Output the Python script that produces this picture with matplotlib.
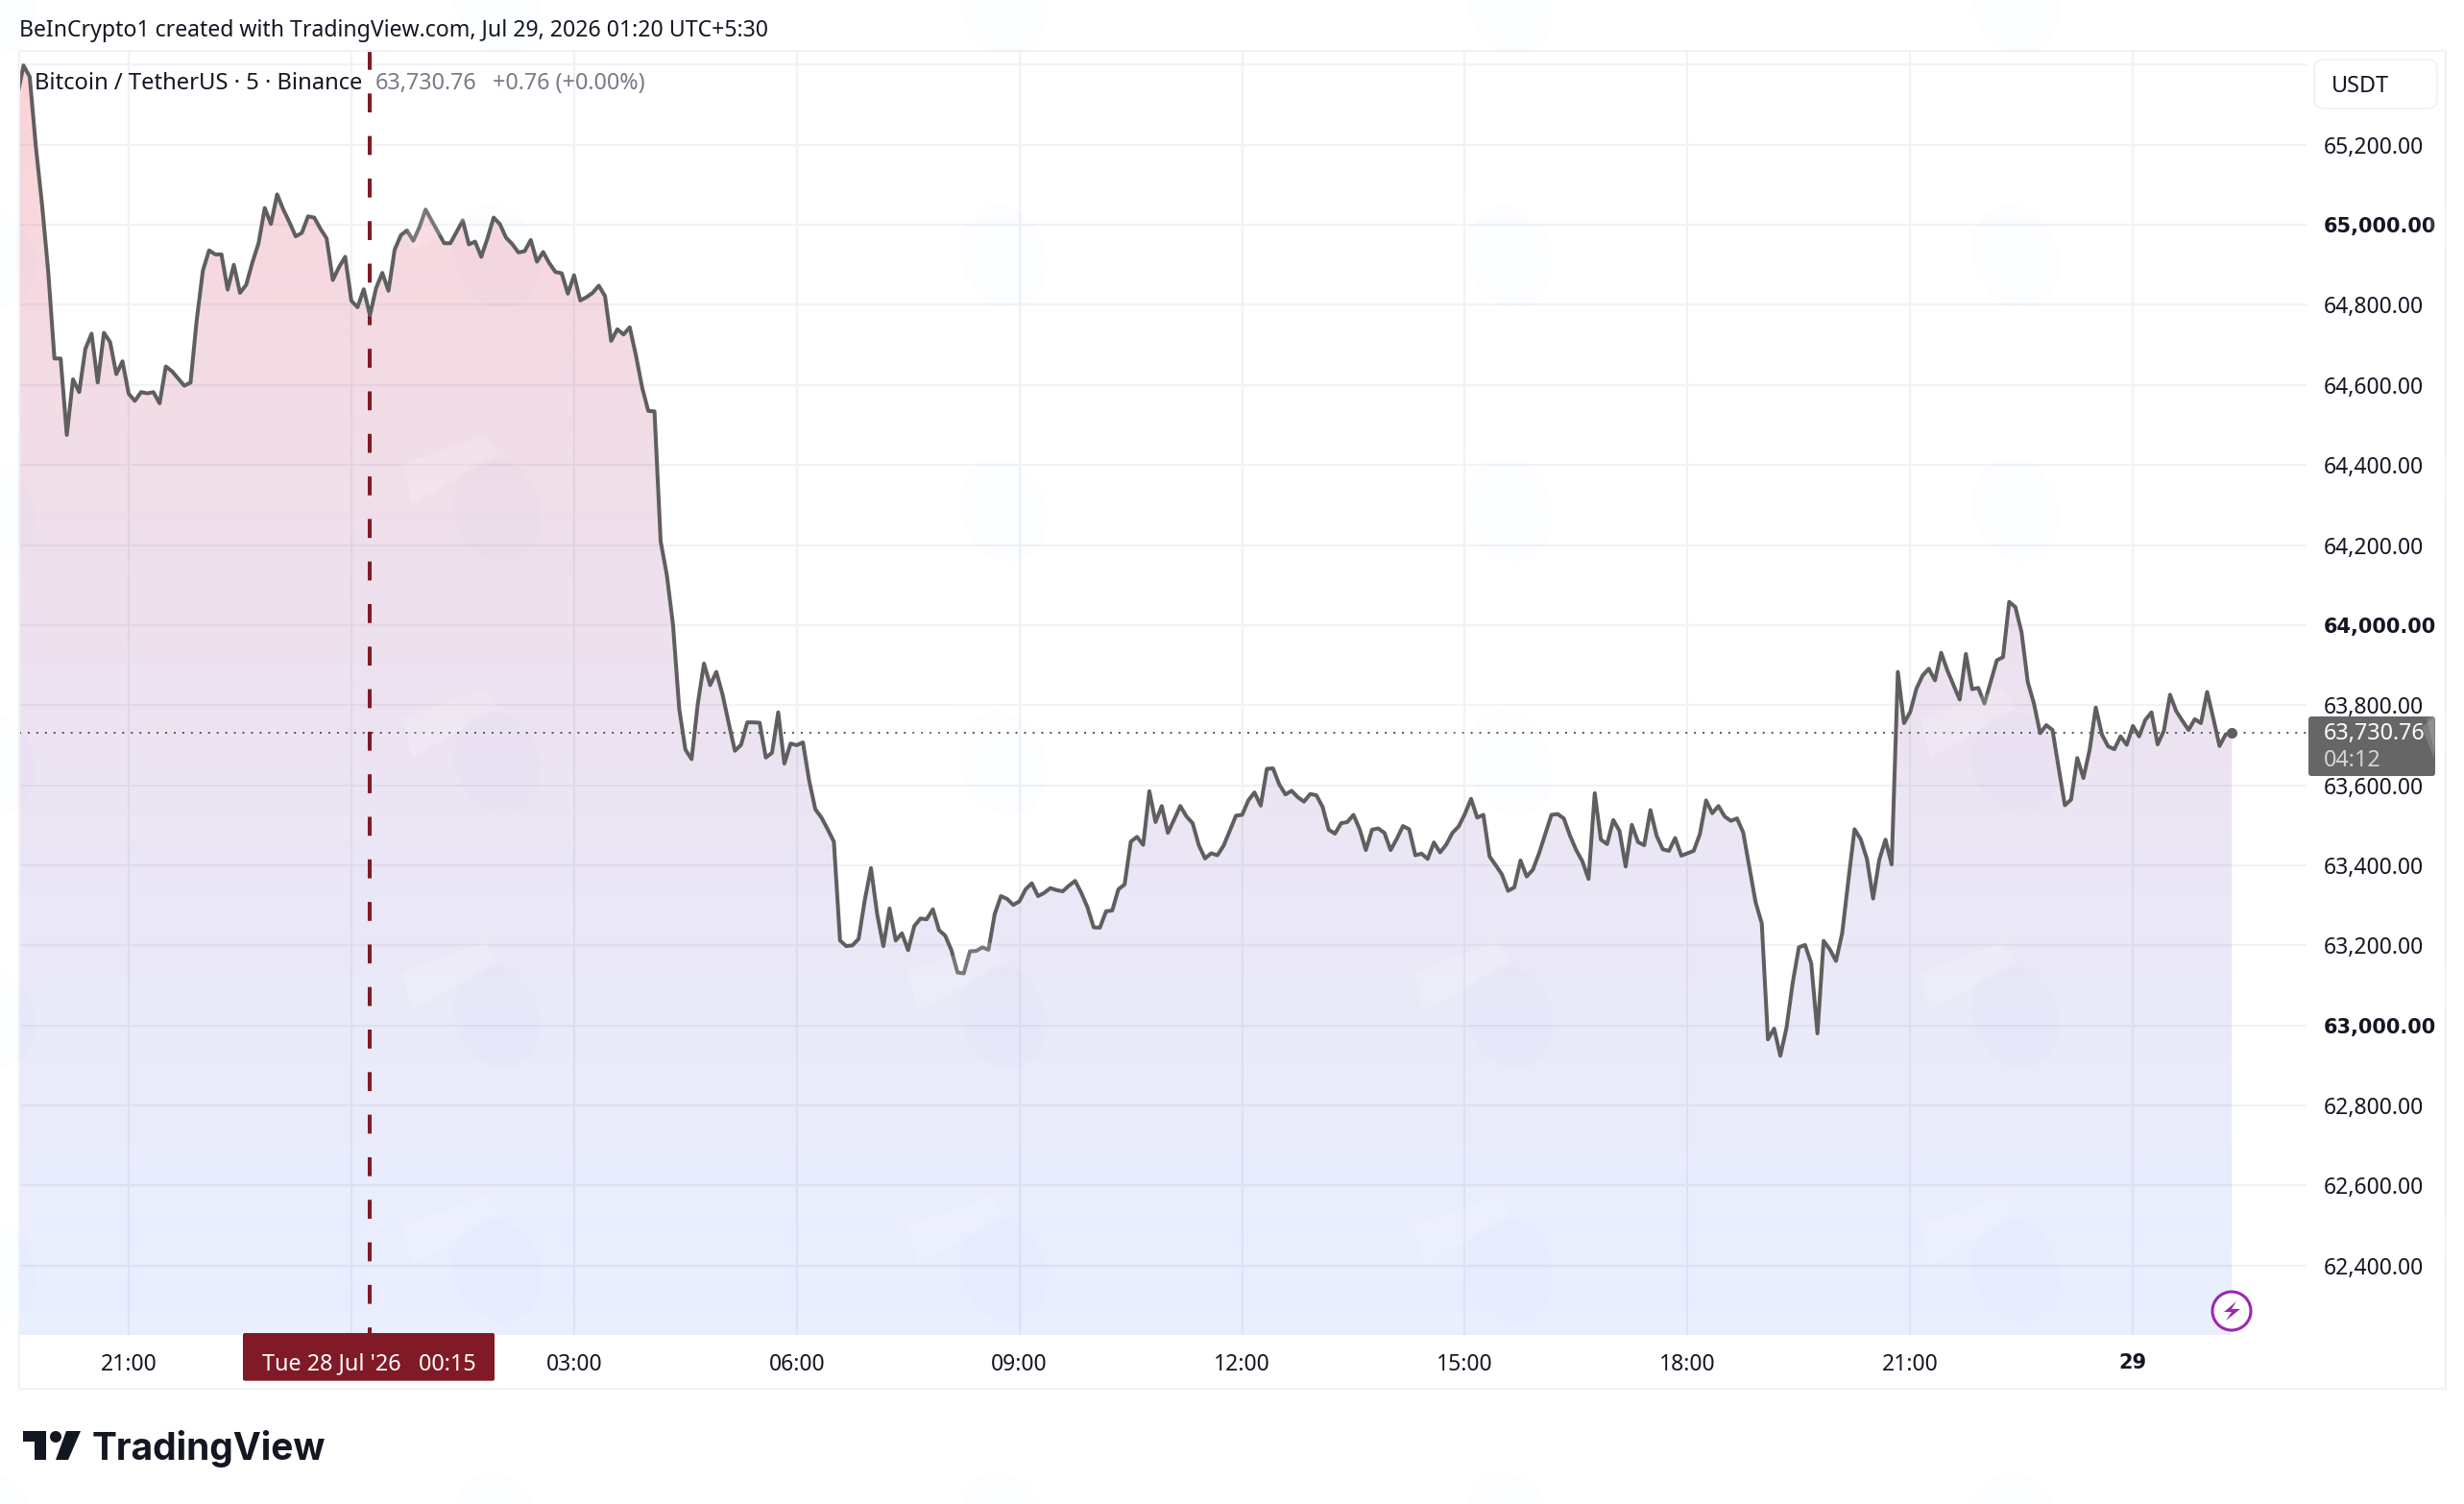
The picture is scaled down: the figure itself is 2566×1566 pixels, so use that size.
''' BTC/USDT 5 min area chart, TradingView look '''
import numpy as np
import matplotlib
matplotlib.use('Agg')
import matplotlib.pyplot as plt
from matplotlib.patches import Polygon, Rectangle, FancyBboxPatch, Circle, Ellipse

# closes, one every 5 minutes, first one is 18 bars before 21:00
first_bar = -18
prices = [
    65322, 65398, 65370, 65194, 65050, 64882, 64666, 64666, 64475, 64614,
    64582, 64690, 64728, 64606, 64730, 64707, 64627, 64659,
    64578, 64560, 64582, 64579, 64582, 64554, 64646, 64634, 64616, 64598,
    64606, 64762, 64886, 64936, 64926, 64926, 64838, 64900, 64830, 64850,
    64906, 64954, 65042, 65002, 65076, 65038, 65006, 64971, 64980, 65021,
    65018, 64990, 64966, 64862, 64894, 64920, 64810, 64794, 64839, 64774,
    64842, 64880, 64835, 64938, 64974, 64986, 64960, 64994, 65038, 65010,
    64982, 64954, 64954, 64982, 65011, 64951, 64958, 64920, 64966, 65018,
    65002, 64968, 64952, 64931, 64934, 64962, 64908, 64932, 64904, 64882,
    64879, 64828, 64874, 64811, 64819, 64830, 64848, 64822, 64710, 64739,
    64726, 64744, 64674, 64594, 64535, 64534, 64209, 64125, 64000, 63791,
    63689, 63665, 63803, 63904, 63850, 63883, 63827, 63755, 63686, 63701,
    63757, 63757, 63756, 63669, 63681, 63782, 63654, 63704, 63700, 63707,
    63612, 63540, 63519, 63490, 63459, 63212, 63198, 63200, 63216, 63313,
    63393, 63278, 63198, 63292, 63212, 63230, 63188, 63248, 63267, 63265,
    63290, 63238, 63224, 63188, 63132, 63130, 63185, 63186, 63195, 63189,
    63278, 63323, 63316, 63301, 63310, 63340, 63355, 63323, 63331, 63343,
    63338, 63335, 63349, 63361, 63331, 63295, 63245, 63244, 63285, 63287,
    63340, 63352, 63459, 63471, 63451, 63585, 63508, 63548, 63481, 63514,
    63548, 63522, 63505, 63450, 63417, 63430, 63425, 63449, 63486, 63524,
    63526, 63562, 63582, 63549, 63641, 63642, 63602, 63577, 63586, 63570,
    63559, 63578, 63575, 63546, 63489, 63479, 63505, 63508, 63526, 63490,
    63438, 63489, 63492, 63481, 63438, 63466, 63498, 63490, 63425, 63429,
    63416, 63457, 63432, 63452, 63481, 63497, 63528, 63566, 63519, 63526,
    63422, 63400, 63377, 63336, 63345, 63412, 63372, 63389, 63430, 63478,
    63526, 63528, 63517, 63474, 63438, 63410, 63366, 63580, 63464, 63453,
    63513, 63486, 63397, 63501, 63458, 63450, 63538, 63474, 63440, 63436,
    63468, 63424, 63430, 63436, 63478, 63562, 63530, 63548, 63522, 63511,
    63517, 63482, 63395, 63308, 63255, 62965, 62992, 62924, 62994, 63106,
    63195, 63201, 63155, 62980, 63211, 63190, 63161, 63230, 63362, 63490,
    63465, 63416, 63317, 63414, 63464, 63402, 63883, 63755, 63783, 63841,
    63874, 63891, 63862, 63931, 63887, 63850, 63814, 63928, 63840, 63843,
    63804, 63858, 63912, 63920, 64058, 64045, 63982, 63858, 63804, 63730,
    63750, 63738, 63643, 63550, 63564, 63668, 63618, 63688, 63794, 63726,
    63697, 63690, 63722, 63701, 63748, 63722, 63763, 63782, 63702, 63736,
    63826, 63785, 63761, 63738, 63765, 63755, 63833, 63767, 63698, 63727,
    63730.76,
]
last_price = 63730.76

price_ticks = [62400, 62600, 62800, 63000, 63200, 63400, 63600, 63800, 64000, 64200, 64400, 64600, 64800, 65000, 65200, 65400]
bold_prices = [63000, 64000, 65000]
time_ticks = [0, 36, 72, 108, 144, 180, 216, 252, 288, 324]
time_labels = ['21:00', '', '03:00', '06:00', '09:00', '12:00', '15:00', '18:00', '21:00', '29']
marker_bar = time_ticks[1] + 3  # 00:15

W, H = 2566, 1566
FONT = 'Noto Sans'
DARK = '#131722'
GRID = '#f1f2f6'
LINE = '#5f5f5f'
RED = '#801a26'

plt.rcParams['font.family'] = [FONT, 'DejaVu Sans']
fig = plt.figure(figsize=(W / 100, H / 100), dpi=100, facecolor='white')

# plot pane in pixels: x 20-2402, y 53-1390
left, right, top, bottom = 20, 2402, 53, 1390
ax = fig.add_axes([left / W, 1 - bottom / H, (right - left) / W, (bottom - top) / H])
ax.set_facecolor('none')
for s in ax.spines.values():
    s.set_visible(False)

bars = np.arange(first_bar, first_bar + len(prices))
bar_px = 6.442
xlim = ((left - 134) / bar_px, (right - 134) / bar_px)
ylim = (65200 - (bottom - 150.7) / 0.4168, 65200 - (top - 150.7) / 0.4168)

# gradient under the line, red on top and blue at the bottom
n = 256
t = np.linspace(0, 1, n)[:, None]
grad = np.zeros((n, 1, 4))
grad[..., 0] = (242 + (41 - 242) * t) / 255
grad[..., 1] = (54 + (98 - 54) * t) / 255
grad[..., 2] = (69 + (255 - 69) * t) / 255
grad[..., 3] = 0.22 + (0.10 - 0.22) * t
im = ax.imshow(grad, extent=[xlim[0], xlim[1], ylim[0], ylim[1]], aspect='auto', zorder=1, interpolation='bilinear')
verts = list(zip(bars, prices)) + [(bars[-1], ylim[0]), (bars[0], ylim[0])]
area = Polygon(verts, transform=ax.transData, fc='none', ec='none')
ax.add_patch(area)
im.set_clip_path(area)

ax.plot(xlim, [last_price, last_price], color='#555555', lw=1.4, ls=(0, (1, 3.6)), zorder=2)
ax.plot([marker_bar, marker_bar], [ylim[1], ylim[0]], color=RED, lw=2.9, ls=(0, (4.9, 6.1)), dash_capstyle='butt', zorder=3)
ax.plot(bars, prices, color=LINE, lw=2.9, solid_joinstyle='round', zorder=4)
ax.plot(bars[-1], last_price, 'o', color=LINE, ms=8, mew=0, zorder=5)

ax.set_xlim(xlim)
ax.set_ylim(ylim)

ax.set_axisbelow(True)
ax.grid(True, color=GRID, lw=1.6)
ax.yaxis.tick_right()
ax.set_yticks(price_ticks)
ax.set_yticklabels(['' if p == 65400 else f'{p:,.2f}' for p in price_ticks])
ax.set_xticks(time_ticks)
ax.set_xticklabels(time_labels)
ax.tick_params(axis='y', length=0, pad=13, labelsize=16.5, labelcolor=DARK)
ax.tick_params(axis='x', length=0, pad=13.5, labelsize=16.5, labelcolor=DARK)
# the round numbers are bold, Noto has no bold here so DejaVu does it
for lab, p in zip(ax.get_yticklabels(), price_ticks):
    if p in bold_prices:
        lab.set_family('DejaVu Sans')
        lab.set_fontweight('bold')
        lab.set_fontsize(15)
lab = ax.get_xticklabels()[-1]
lab.set_family('DejaVu Sans')
lab.set_fontweight('bold')
lab.set_fontsize(15)

# everything around the chart, drawn in picture pixels
px = fig.add_axes([0, 0, 1, 1], facecolor='none')
px.set_xlim(0, W)
px.set_ylim(H, 0)
px.axis('off')

px.add_patch(Rectangle((20, 53), 2527, 1393, fc='none', ec=GRID, lw=1.6))

fig_text = dict(va='center', ha='left', fontsize=16.8, color=DARK)
px.text(20, 32, 'BeInCrypto1 created with TradingView.com, Jul 29, 2026 01:20 UTC+5:30', **{**fig_text, 'fontsize': 16.6})
px.text(36, 87, 'Bitcoin / TetherUS · 5 · Binance', **{**fig_text, 'fontsize': 17.1})
px.text(391, 87, '63,730.76', **{**fig_text, 'color': '#787b86'})
px.text(513, 87, '+0.76 (+0.00%)', **{**fig_text, 'color': '#787b86'})

# currency button
px.add_patch(FancyBboxPatch((2418, 70), 112, 35, boxstyle='round,pad=8,rounding_size=10', fc='white', ec=GRID, lw=1.4))
px.text(2428, 90, 'USDT', **fig_text)

# last price label
px.add_patch(FancyBboxPatch((2406, 748), 128, 58, boxstyle='round,pad=2,rounding_size=3', fc='#666666', ec='none'))
px.add_patch(Polygon([(2535, 747), (2522, 757), (2535, 790)], fc='#7d7d7d', ec='none'))
px.text(2420, 764, '63,730.76', **{**fig_text, 'color': 'white'})
px.text(2420, 792, '04:12', **{**fig_text, 'color': '#d4d4d4'})

# crosshair date label
px.add_patch(FancyBboxPatch((255, 1390), 258, 45.7, boxstyle='round,pad=2,rounding_size=2', fc=RED, ec='none'))
px.add_patch(Rectangle((253, 1390), 262, 10, fc=RED, ec='none'))
px.text(384, 1420, "Tue 28 Jul '26   00:15", **{**fig_text, 'color': 'white', 'ha': 'center'})

# lightning icon
px.add_patch(Circle((2324, 1365), 20, fc='white', ec='#9c27b0', lw=2.2))
px.add_patch(Polygon([(2329, 1355), (2316, 1366), (2324, 1366), (2318, 1375), (2333, 1363), (2324, 1363)], fc='#9c27b0', ec='none'))

# TradingView logo
px.add_patch(Polygon([(24, 1490), (48, 1490), (48, 1520), (36, 1520), (36, 1501), (24, 1501)], fc=DARK, ec='none'))
px.add_patch(Circle((58, 1496), 6, fc=DARK, ec='none'))
px.add_patch(Polygon([(69, 1490), (84, 1490), (71, 1520), (58, 1520)], fc=DARK, ec='none'))
px.text(96, 1509, 'TradingView', va='center', ha='left', fontsize=28, fontweight='bold', color=DARK, family='Inter')

# faint watermark tiles, they sit on top of everything
for wx in (-13, 514, 1041, 1568, 2095, 2622):
    for wy in (5, 269, 533, 797, 1061, 1325, 1589):
        px.add_patch(Ellipse((wx + 4, wy - 2), 88, 110, angle=-20, fc=(0.16, 0.38, 1.0, 0.012), ec='none', zorder=6))
        px.add_patch(Polygon([(wx - 95, wy - 49), (wx - 9, wy - 80), (wx + 5, wy - 59), (wx - 85, wy - 8)], fc=(1, 1, 1, 0.16), ec='none', zorder=6))

fig.savefig('out.png', dpi=100)
